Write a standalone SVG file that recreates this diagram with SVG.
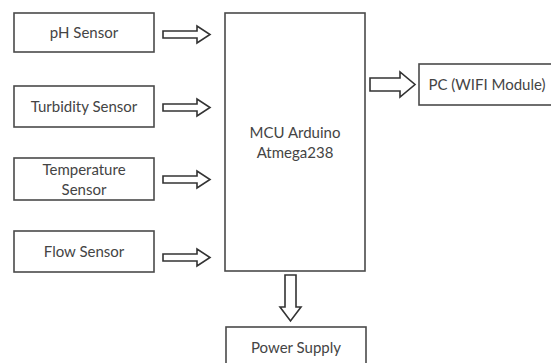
<svg xmlns="http://www.w3.org/2000/svg" width="551" height="363" viewBox="0 0 551 363">
<style>
.box{fill:#fff;stroke:#4a4a4a;stroke-width:1.6}
.arr{fill:#fff;stroke:#333;stroke-width:1.6;stroke-linejoin:miter}
text{font-family:Lato,"Open Sans","Liberation Sans",sans-serif;font-size:15px;fill:#444;text-anchor:middle}
</style>
<rect width="551" height="363" fill="#fff"/>
<g id="ph"><rect class="box" x="14" y="13" width="140" height="39"/><text x="84" y="38">pH Sensor</text></g>
<g id="turbidity"><rect class="box" x="14" y="86" width="140" height="41"/><text x="84" y="112">Turbidity Sensor</text></g>
<g id="temperature"><rect class="box" x="14" y="158" width="140" height="42"/><text x="84" y="175">Temperature</text><text x="84" y="195">Sensor</text></g>
<g id="flow"><rect class="box" x="14" y="231" width="140" height="41"/><text x="84" y="257">Flow Sensor</text></g>
<g id="mcu"><rect class="box" x="225" y="13" width="140" height="258"/><text x="295" y="138">MCU Arduino</text><text x="295" y="158">Atmega238</text></g>
<g id="pc"><rect class="box" x="419" y="64" width="140" height="41"/><text x="487" y="90">PC (WIFI Module)</text></g>
<g id="power"><rect class="box" x="226" y="327" width="140" height="40"/><text x="296" y="353">Power Supply</text></g>
<g id="connectors">
<path class="arr" d="M163,31 H197 V26 L210,34.5 L197,43 V38 H163 Z"/>
<path class="arr" d="M163,104 H197 V99 L210,107.5 L197,116 V111 H163 Z"/>
<path class="arr" d="M163,176 H197 V171 L210,179.5 L197,188 V183 H163 Z"/>
<path class="arr" d="M163,254 H197 V249 L210,257.5 L197,266 V261 H163 Z"/>
<path class="arr" d="M370,78 H400 V72 L415,84.5 L400,97 V91 H370 Z"/>
<path class="arr" d="M285,275 H296 V307 H301 L290.5,321 L280,307 H285 Z"/>
</g>
</svg>
